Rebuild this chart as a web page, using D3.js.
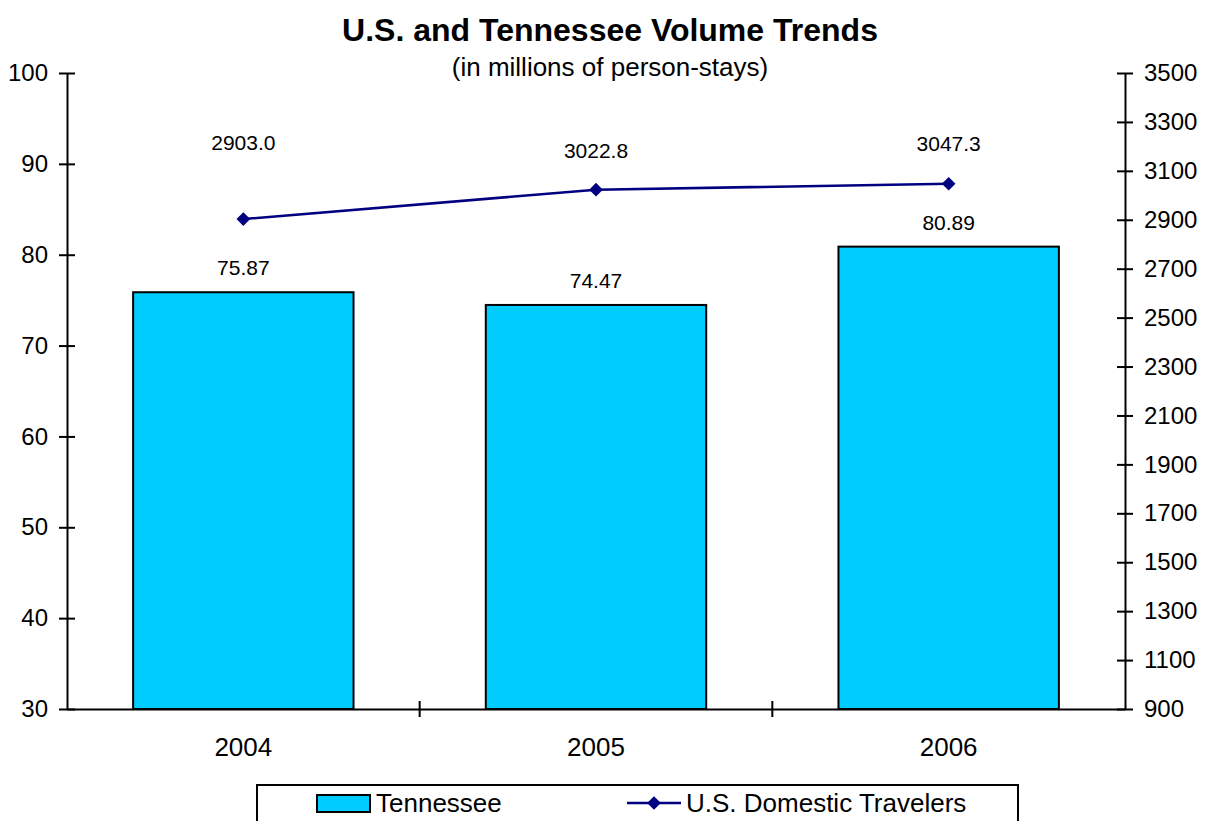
<!DOCTYPE html>
<html>
<head>
<meta charset="utf-8">
<script src="https://cdn.jsdelivr.net/npm/d3@7"></script>
<style>
  body { margin: 0; background: #fff; }
  text { font-family: Arial, "Liberation Sans", sans-serif; fill: #000; }
</style>
</head>
<body>
<div id="chart"></div>
<script>
// dữ liệu
const years = ["2004", "2005", "2006"];
const tennessee = [75.87, 74.47, 80.89];
const usTravelers = [2903.0, 3022.8, 3047.3];
const leftTicks = [30, 40, 50, 60, 70, 80, 90, 100];
const rightTicks = [900, 1100, 1300, 1500, 1700, 1900, 2100, 2300, 2500, 2700, 2900, 3100, 3300, 3500];
// dịch nhãn đường (px, chỉ để bố trí)
const labelShift = [-69, -32, -33];

const W = 1207, H = 821;
const margin = { top: 73, right: 82, bottom: 112, left: 67 };
const width = W - margin.left - margin.right,
      height = H - margin.top - margin.bottom;

const svg = d3.select("#chart").append("svg")
  .attr("width", W).attr("height", H);

const g = svg.append("g").attr("transform", `translate(${margin.left},${margin.top})`);

const x = d3.scaleBand().domain(years).range([0, width]).paddingInner(0).paddingOuter(0);
const y = d3.scaleLinear().domain([30, 100]).range([height, 0]);
const y2 = d3.scaleLinear().domain([900, 3500]).range([height, 0]);
const barW = x.bandwidth() / 1.6;

// tiêu đề
svg.append("text").attr("x", 610).attr("y", 41).attr("text-anchor", "middle")
  .style("font-size", "32px").style("font-weight", "bold")
  .text("U.S. and Tennessee Volume Trends");
svg.append("text").attr("x", 610).attr("y", 76).attr("text-anchor", "middle")
  .style("font-size", "26px")
  .text("(in millions of person-stays)");

// cột
g.selectAll(".bar").data(tennessee).enter().append("rect")
  .attr("x", (d, i) => x(years[i]) + (x.bandwidth() - barW) / 2)
  .attr("y", d => y(d))
  .attr("width", barW)
  .attr("height", d => height - y(d))
  .attr("fill", "#00CCFF").attr("stroke", "#000").attr("stroke-width", 2);

g.selectAll(".bar-label").data(tennessee).enter().append("text")
  .attr("x", (d, i) => x(years[i]) + x.bandwidth() / 2)
  .attr("y", d => y(d) - 17)
  .attr("text-anchor", "middle").style("font-size", "21px")
  .text(d => d.toFixed(2));

// trục trái
const axL = g.append("g")
  .call(d3.axisLeft(y).tickValues(leftTicks).tickSizeInner(8).tickSizeOuter(0).tickPadding(11));
axL.selectAll(".tick line").attr("x2", 8).attr("x1", -8);
axL.selectAll("text").style("font-size", "24px");

// trục phải
const axR = g.append("g").attr("transform", `translate(${width},0)`)
  .call(d3.axisRight(y2).tickValues(rightTicks).tickFormat(d3.format("d"))
    .tickSizeInner(8).tickSizeOuter(0).tickPadding(11));
axR.selectAll(".tick line").attr("x1", -8).attr("x2", 8);
axR.selectAll("text").style("font-size", "24px");

// trục dưới
const axB = g.append("g").attr("transform", `translate(0,${height})`)
  .call(d3.axisBottom(x).tickSize(0).tickPadding(29));
axB.selectAll("text").style("font-size", "26px");
g.selectAll(".cat-tick").data(years.slice(1)).enter().append("line")
  .attr("x1", d => x(d)).attr("x2", d => x(d))
  .attr("y1", height - 8).attr("y2", height + 8)
  .attr("stroke", "#000").attr("stroke-width", 2);

[axL, axR, axB].forEach(a => {
  a.select(".domain").attr("stroke", "#000").attr("stroke-width", 2);
  a.selectAll(".tick line").attr("stroke", "#000").attr("stroke-width", 2);
});

// đường
const line = d3.line()
  .x((d, i) => x(years[i]) + x.bandwidth() / 2)
  .y(d => y2(d));
g.append("path").datum(usTravelers)
  .attr("d", line).attr("fill", "none")
  .attr("stroke", "#000080").attr("stroke-width", 2.5);

const diamond = d3.symbol().type(d3.symbolDiamond2).size(120);
g.selectAll(".pt").data(usTravelers).enter().append("path")
  .attr("d", diamond)
  .attr("transform", (d, i) => `translate(${x(years[i]) + x.bandwidth() / 2},${y2(d)})`)
  .attr("fill", "#000080");

g.selectAll(".line-label").data(usTravelers).enter().append("text")
  .attr("x", (d, i) => x(years[i]) + x.bandwidth() / 2)
  .attr("y", (d, i) => y2(d) + labelShift[i])
  .attr("text-anchor", "middle").style("font-size", "21px")
  .text(d => d.toFixed(1));

// chú giải
const lg = svg.append("g");
lg.append("rect").attr("x", 257).attr("y", 785).attr("width", 761).attr("height", 50)
  .attr("fill", "#fff").attr("stroke", "#000").attr("stroke-width", 2);
lg.append("rect").attr("x", 317).attr("y", 795).attr("width", 53).attr("height", 17)
  .attr("fill", "#00CCFF").attr("stroke", "#000").attr("stroke-width", 2);
lg.append("text").attr("x", 376).attr("y", 812).style("font-size", "26px").text("Tennessee");
lg.append("line").attr("x1", 627).attr("x2", 681).attr("y1", 803).attr("y2", 803)
  .attr("stroke", "#000080").attr("stroke-width", 2.5);
lg.append("path").attr("d", diamond).attr("transform", "translate(654,803)").attr("fill", "#000080");
lg.append("text").attr("x", 686).attr("y", 812).style("font-size", "26px").text("U.S. Domestic Travelers");
</script>
</body>
</html>
